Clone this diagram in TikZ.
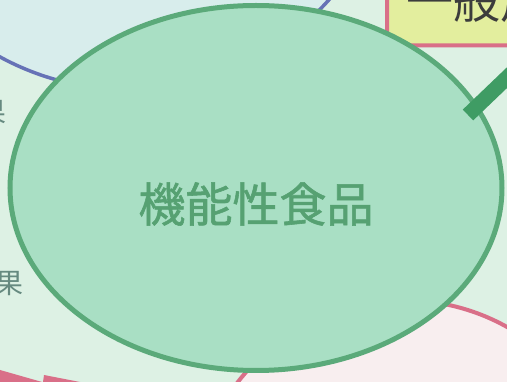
\documentclass[tikz,border=0pt]{standalone}
\usepackage{fontspec}
\newfontfamily\jpfont{Noto Sans CJK JP}
\newfontfamily\jpfontb{Noto Sans CJK JP}[FakeBold=1.2]
\usetikzlibrary{shapes.geometric}

\definecolor{bgmint}{HTML}{DDF1E4}
\definecolor{bluefill}{HTML}{D8EDEC}
\definecolor{bluering}{HTML}{6672B6}
\definecolor{pinkfill}{HTML}{F8EEEF}
\definecolor{pinkring}{HTML}{D96F88}
\definecolor{boxfill}{HTML}{E3EE9E}
\definecolor{boxtext}{HTML}{3C3C3C}
\definecolor{ovalfill}{HTML}{A9DFC4}
\definecolor{ovalline}{HTML}{5BAA7A}
\definecolor{ovaltext}{HTML}{56A172}
\definecolor{barline}{HTML}{3F9C64}
\definecolor{sidegray}{HTML}{668A80}

\tikzset{
  sidetext/.style={text=sidegray, font=\jpfont\fontsize{28}{28}\selectfont}
}

\begin{document}
\begin{tikzpicture}[x=1pt,y=-1pt]
  \useasboundingbox (0,0) rectangle (507,382);
  \clip (0,0) rectangle (507,382);

  % --- Background ---
  \fill[bgmint] (0,0) rectangle (507,382);

  % --- Blue circle (top left) ---
  \draw[bluering, line width=3.5, fill=bluefill] (128.5,-179) circle[radius=268.6];

  % --- Pink circle (bottom right) ---
  \draw[pinkring, line width=4, fill=pinkfill] (404.4,510.8) circle[radius=210.5];

  % --- Pink bits (bottom left) ---
  \fill[pinkring] (0,370) -- (42,382) -- (0,382) -- cycle;
  \fill[pinkring] (44,375) -- (80,382) -- (43,382) -- cycle;

  % --- Box (top right) ---
  \node[draw=pinkring, line width=4, fill=boxfill, rounded corners=15,
        minimum width=312, minimum height=95] (general) at (543,-2) {};
  \node[text=boxtext, font=\jpfont\fontsize{47}{47}\selectfont, anchor=west]
        (generallabel) at (403,0.5) {一般用医薬品};

  % --- Ellipse ---
  \node[ellipse, draw=ovalline, line width=5, fill=ovalfill,
        minimum width=492, minimum height=365] (food) at (256,188) {};
  \node[text=ovaltext, font=\jpfontb\fontsize{47}{47}\selectfont]
        (foodlabel) at ([yshift=-16pt]food.center) {機能性食品};

  % --- Thick bar ---
  \coordinate (barstart) at (468,115);
  \coordinate (barend) at (515,70);
  \draw[barline, line width=15] (barstart) -- (barend);

  % --- Side text (left) ---
  \node[sidetext] (fruita) at (-7,113) {果};
  \node[sidetext] (fruitb) at (9,284) {果};

\end{tikzpicture}
\end{document}
